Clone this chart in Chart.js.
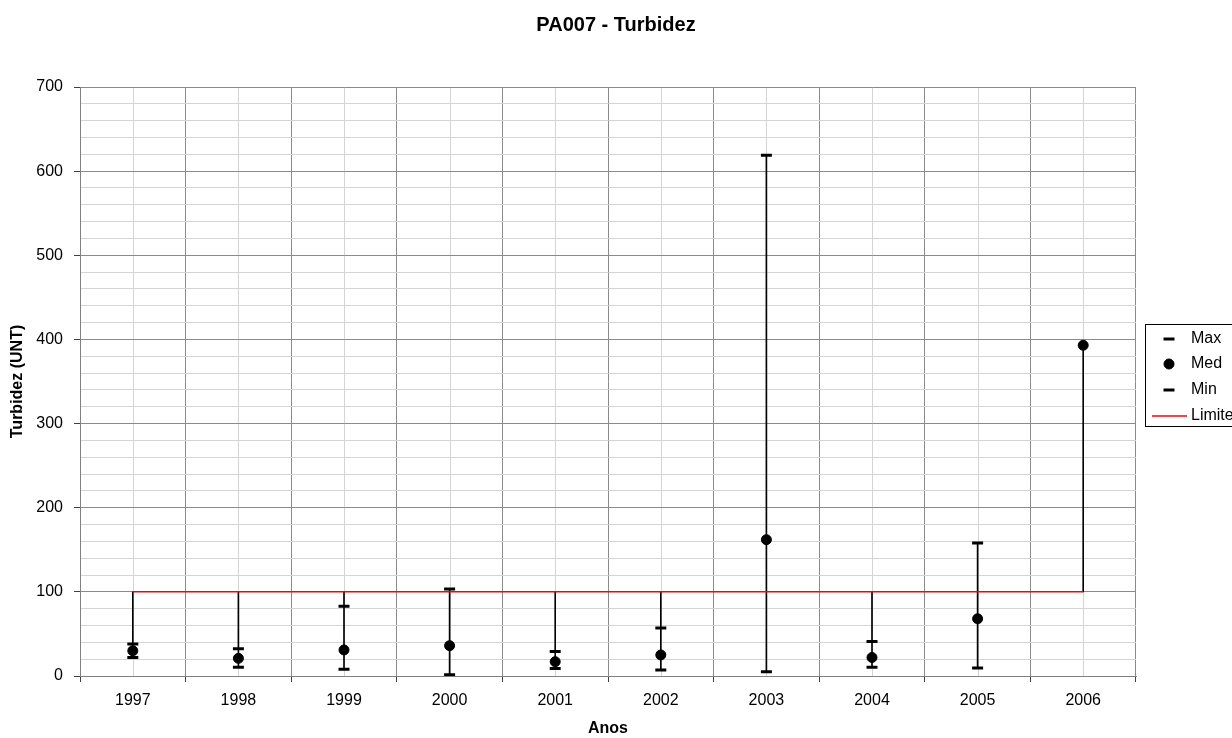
<!DOCTYPE html>
<html>
<head>
<meta charset="utf-8">
<title>PA007 - Turbidez</title>
<script src="https://cdn.jsdelivr.net/npm/chart.js@4"></script>
<style>
  html, body { margin: 0; padding: 0; background: #fff; overflow: hidden; }
  #wrap { width: 1232px; height: 738px; }
</style>
</head>
<body>
<div id="wrap"><canvas id="myChart"></canvas></div>
<script>
const years = ['1997','1998','1999','2000','2001','2002','2003','2004','2005','2006'];
const maxVals = [38, 32.5, 83, 103.5, 29, 57, 619, 41, 158, null];
const medVals = [30, 21, 31, 36, 17, 25, 162, 22, 68, 393];
const minVals = [22, 10.5, 8, 1.5, 9, 7, 5, 10.5, 9.5, null];
const limite  = [100, 100, 100, 100, 100, 100, 100, 100, 100, 100];

// high-low stems: span of every value in the year (limit included)
const stems = years.map((y, i) => {
  const v = [maxVals[i], medVals[i], minVals[i], limite[i]].filter(x => x !== null);
  return [Math.min(...v), Math.max(...v)];
});

const FONT = '"Liberation Sans", Arial, sans-serif';
const MAJOR = '#8a8a8a';
const MINOR = '#d4d4d4';

// light vertical lines at the category centres
const centerLines = {
  id: 'centerLines',
  beforeDraw(chart) {
    const {ctx, chartArea, scales: {x}} = chart;
    ctx.save();
    ctx.strokeStyle = MINOR;
    ctx.lineWidth = 1;
    years.forEach((y, i) => {
      const px = Math.round(x.getPixelForValue(i)) + 0.5;
      ctx.beginPath();
      ctx.moveTo(px, chartArea.top);
      ctx.lineTo(px, chartArea.bottom);
      ctx.stroke();
    });
    ctx.restore();
  }
};

// Excel-like legend box at the right, running off the page edge
const sideLegend = {
  id: 'sideLegend',
  afterDraw(chart) {
    const ctx = chart.ctx;
    ctx.save();
    ctx.fillStyle = '#fff';
    ctx.fillRect(1146, 325, 100, 102);
    ctx.strokeStyle = '#000';
    ctx.lineWidth = 1;
    ctx.strokeRect(1145.5, 324.5, 100, 102);
    const items = [
      {text: 'Max', y: 339, style: 'line'},
      {text: 'Med', y: 364, style: 'circle'},
      {text: 'Min', y: 390, style: 'line'},
      {text: 'Limite', y: 416, style: 'red'}
    ];
    items.forEach(it => {
      if (it.style === 'red') {
        ctx.strokeStyle = '#ff0000';
        ctx.lineWidth = 1.5;
        ctx.beginPath();
        ctx.moveTo(1152, it.y);
        ctx.lineTo(1187, it.y);
        ctx.stroke();
      } else {
        ctx.fillStyle = '#000';
        ctx.strokeStyle = '#000';
        ctx.lineWidth = it.style === 'line' ? 3 : 1;
        Chart.helpers.drawPoint(ctx, {
          pointStyle: it.style,
          radius: it.style === 'line' ? 5.5 : 5,
          borderWidth: ctx.lineWidth
        }, 1169, it.y);
      }
      ctx.fillStyle = '#000';
      ctx.font = '16px ' + FONT;
      ctx.textBaseline = 'middle';
      ctx.textAlign = 'left';
      ctx.fillText(it.text, 1191, it.y);
    });
    ctx.restore();
  }
};

const config = {
  data: {
    labels: years,
    datasets: [
      {
        type: 'line', label: 'Max', data: maxVals, showLine: false,
        pointStyle: 'line', pointRadius: 5.5, pointBorderWidth: 3,
        pointBorderColor: '#000', pointBackgroundColor: '#000', order: 1
      },
      {
        type: 'line', label: 'Med', data: medVals, showLine: false,
        pointStyle: 'circle', pointRadius: 5, pointBorderWidth: 1,
        pointBorderColor: '#000', pointBackgroundColor: '#000', order: 1
      },
      {
        type: 'line', label: 'Min', data: minVals, showLine: false,
        pointStyle: 'line', pointRadius: 5.5, pointBorderWidth: 3,
        pointBorderColor: '#000', pointBackgroundColor: '#000', order: 1
      },
      {
        type: 'line', label: 'Limite', data: limite,
        borderColor: '#ff0000', borderWidth: 1.5, pointRadius: 0, order: 2
      },
      {
        type: 'bar', label: 'stems', data: stems,
        backgroundColor: '#000', barThickness: 1, borderWidth: 0, order: 3
      }
    ]
  },
  options: {
    responsive: true,
    maintainAspectRatio: false,
    animation: false,
    layout: { padding: 0 },
    plugins: {
      legend: { display: false },
      tooltip: { enabled: false },
      title: {
        display: true,
        text: 'PA007 - Turbidez',
        color: '#000',
        font: { family: FONT, size: 20, weight: 'bold' },
        padding: { top: 13, bottom: 50 }
      }
    },
    scales: {
      x: {
        type: 'category',
        offset: true,
        grid: { offset: true, color: MAJOR, tickLength: 6, tickColor: '#404040' },
        border: { color: '#808080', width: 1 },
        ticks: { color: '#000', font: { family: FONT, size: 16 }, padding: 9, maxRotation: 0 },
        title: {
          display: true, text: 'Anos', color: '#000',
          font: { family: FONT, size: 16, weight: 'bold' },
          padding: { top: 0, bottom: 0 }
        },
        afterFit(scale) { scale.height = 62; }
      },
      y: {
        min: 0,
        max: 700,
        ticks: {
          stepSize: 20,
          color: '#000',
          font: { family: FONT, size: 16 },
          padding: 11,
          autoSkip: false,
          callback: v => (v % 100 === 0 ? v : '')
        },
        grid: {
          color: ctx => (ctx.tick && ctx.tick.value % 100 === 0 ? MAJOR : MINOR),
          tickColor: ctx => (ctx.tick && ctx.tick.value % 100 === 0 ? '#404040' : 'rgba(0,0,0,0)'),
          tickLength: 6
        },
        border: { color: '#808080', width: 1 },
        title: {
          display: true, text: 'Turbidez (UNT)', color: '#000',
          font: { family: FONT, size: 16, weight: 'bold' },
          padding: { top: 8, bottom: 0 }
        },
        afterFit(scale) { scale.width = 80; }
      },
      // empty right-hand axis that only reserves room for the legend
      yRight: {
        position: 'right',
        min: 0,
        max: 700,
        ticks: { display: false },
        grid: { display: false },
        border: { display: false },
        afterFit(scale) { scale.width = 96; }
      }
    }
  },
  plugins: [centerLines, sideLegend]
};

const myChart = new Chart(document.getElementById('myChart'), config);
</script>
</body>
</html>
